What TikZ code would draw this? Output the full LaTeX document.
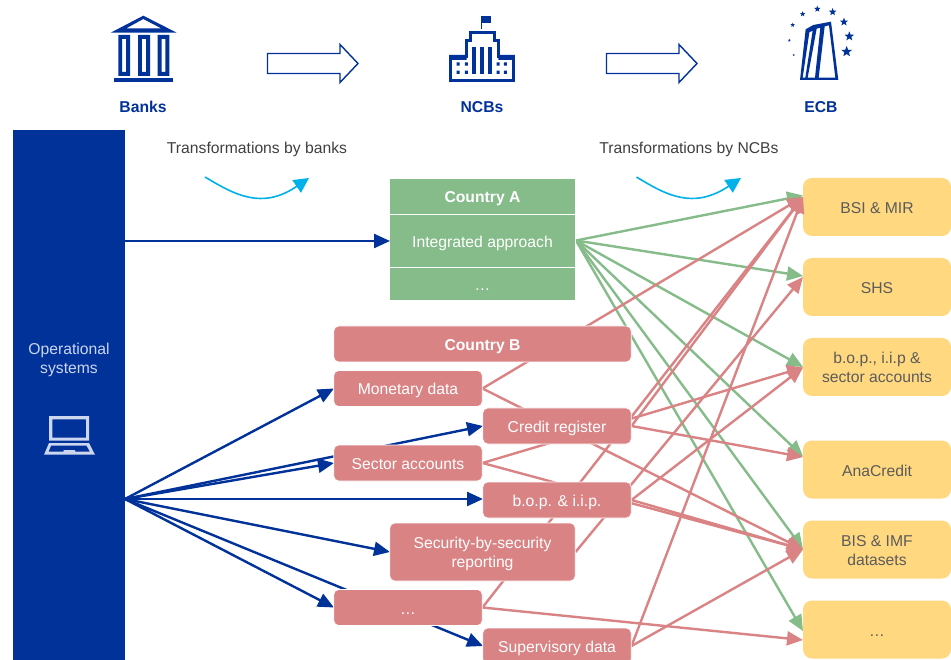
\documentclass[tikz,border=0pt]{standalone}
\usepackage{fontspec}
\setmainfont{Liberation Sans}
\usetikzlibrary{arrows.meta}
\definecolor{ecbblue}{HTML}{003299}
\definecolor{agreen}{HTML}{85BC8A}
\definecolor{bred}{HTML}{D98384}
\definecolor{yel}{HTML}{FFD87F}
\definecolor{cyanc}{HTML}{00B1EA}
\definecolor{lightic}{HTML}{CCD6EE}
\definecolor{txt}{HTML}{404040}
\definecolor{ytxt}{HTML}{5C5C5C}
\newcommand{\ecbstar}[3]{\fill[ecbblue,shift={(#1,#2)}] (270:#3) -- (306:#3*.42) -- (342:#3) -- (18:#3*.42) -- (54:#3) -- (90:#3*.42) -- (126:#3) -- (162:#3*.42) -- (198:#3) -- (234:#3*.42) -- cycle;}
\tikzset{
  lab/.style={font=\fontsize{15.7}{19}\selectfont,align=center,inner sep=0pt},
  oneline/.style={text height=15pt,text depth=2pt},
  twoline/.style={text height=35pt,text depth=3.6pt},
  cell/.style={lab,text=white,draw=white,line width=0.7pt,oneline},
  greenbox/.style={cell,fill=agreen,minimum width=185.5pt},
  redbox/.style={cell,fill=bred,rounded corners=5pt},
  rnarrow/.style={redbox,minimum width=148.5pt,minimum height=36pt},
  yelbox/.style={lab,text=ytxt,fill=yel,rounded corners=9pt,minimum width=148pt,minimum height=58pt,oneline},
  head/.style={lab,text=ecbblue,font=\fontsize{15.7}{19}\selectfont\bfseries},
  boldtxt/.style={font=\fontsize{15.7}{19}\selectfont\bfseries},
  blueline/.style={draw=ecbblue,line width=2.4pt,-{Triangle[length=16pt,width=14pt]}},
  greenline/.style={draw=agreen,line width=2.4pt,-{Triangle[length=16pt,width=14pt]}},
  redline/.style={draw=bred,line width=2.4pt,-{Triangle[length=16pt,width=14pt]}},
  curvearrow/.style={draw=cyanc,line width=1.6pt,-{Triangle[length=15pt,width=15pt]}},
  bigarrow/.style={draw=ecbblue,line width=1.4pt,fill=white,line join=miter}
}
\begin{document}
\begin{tikzpicture}[x=1pt,y=-1pt]
\clip (0,0) rectangle (951,660);
\fill[white] (0,0) rectangle (951,660);

% icons: bank
\fill[ecbblue,even odd rule] (143.3,15.7) -- (176.7,32.7) -- (110.7,32.7) -- cycle (143.3,19) -- (126,28.5) -- (161.5,28.5) -- cycle;
\foreach \xa/\xb in {118.3/130,138/150,157.7/169.3}
  \fill[ecbblue,even odd rule] (\xa,35) rectangle (\xb,76) (\xa+3.9,39) rectangle (\xb-3.9,72);
\fill[ecbblue] (114,78.3) rectangle (173.3,81.7);

% icons: NCB
\begin{scope}[shift={(420,0)},x=0.3333pt,y=-0.3333pt]
\fill[ecbblue] (183,47) rectangle (213,68);
\draw[ecbblue,line width=1pt] (184,47) -- (184,88);
\draw[ecbblue,line width=3pt] (92,170) -- (140,170) -- (140,122) -- (151,122) -- (151,99) -- (223,99) -- (223,122) -- (235,122) -- (235,170) -- (281,170) -- (281,241) -- (92,241) -- cycle;
\fill[ecbblue] (88,165) rectangle (140,180) (235,165) rectangle (285,180);
\foreach \xx in {157,181,205}
  \fill[ecbblue] (\xx,140) rectangle (\xx+10,222);
\foreach \xx in {110,135,230,252}
  \fill[ecbblue] (\xx,187) rectangle (\xx+9,197) (\xx,212) rectangle (\xx+9,222);
\end{scope}

% icons: ECB
\begin{scope}[shift={(770,0)},x=0.3333pt,y=-0.3333pt]
\fill[ecbblue,even odd rule] (107,88) -- (130,75) -- (183,65) -- (205,240) -- (90,240) -- cycle
  (118,97) -- (128,92) -- (106,233) -- (98,233) -- cycle
  (140,86) -- (151,83) -- (135,233) -- (113,233) -- cycle
  (164,79) -- (177,76) -- (196,233) -- (146,233) -- cycle;
\ecbstar{142}{27}{10}
\ecbstar{98}{42}{8.5}
\ecbstar{188}{36}{12}
\ecbstar{68}{75}{7}
\ecbstar{222}{66}{13}
\ecbstar{58}{121}{5}
\ecbstar{238}{109}{15}
\ecbstar{71}{165}{3.5}
\ecbstar{230}{155}{17}
\end{scope}

% top arrows
\draw[bigarrow] (267.5,53.5) -- (340,53.5) -- (340,44.5) -- (358,63.5) -- (340,82.5) -- (340,73.5) -- (267.5,73.5) -- cycle;
\draw[bigarrow] (606.5,53.5) -- (679,53.5) -- (679,44.5) -- (697,63.5) -- (679,82.5) -- (679,73.5) -- (606.5,73.5) -- cycle;

\node[head] (banks) at (143,107) {Banks};
\node[head] (ncbs) at (482,107) {NCBs};
\node[head] (ecb) at (821,107) {ECB};

\node[lab,text=txt] (tb) at (257,149.5) {Transformations by banks};
\node[lab,text=txt] (tn) at (689,149.5) {Transformations by NCBs};

% free ends of the curved arrows
\coordinate (c1a) at (205,177);
\coordinate (c1b) at (309,178);
\coordinate (c2a) at (636.5,177);
\coordinate (c2b) at (741,178);
\draw[curvearrow] (c1a) .. controls (235,195) and (262,210) .. (c1b);
\draw[curvearrow] (c2a) .. controls (666,195) and (693,210) .. (c2b);

% left panel
\node[fill=ecbblue,minimum width=112pt,minimum height=530pt,inner sep=0pt] (ops) at (69,395) {};
\node[lab,text=lightic] (opstxt) at (69,359.5) {Operational\\systems};

% laptop
\fill[lightic,even odd rule] (49,416) rectangle (89,440.7) (52.3,419.3) rectangle (86,437.7);
\fill[lightic,even odd rule] (49,443) -- (89,443) -- (95,454.7) -- (44,454.7) -- cycle
  (51,445.7) -- (86.5,445.7) -- (90,451.7) -- (75,451.7) -- (75,450) -- (63.5,450) -- (63.5,451.7) -- (48.5,451.7) -- cycle;

% target boxes
\node[yelbox] (bsi) at (877,207) {BSI \& MIR};
\node[yelbox] (shs) at (877,287) {SHS};
\node[yelbox,twoline] (bopt) at (877,367) {b.o.p., i.i.p \&\\sector accounts};
\node[yelbox] (ana) at (877,469.5) {AnaCredit};
\node[yelbox,twoline] (bis) at (877,549.5) {BIS \& IMF\\datasets};
\node[yelbox] (dott) at (877,629.5) {…};

% entry points on the target boxes
\coordinate (bsig) at (803,195.5);
\coordinate (bsir) at (803,197);
\coordinate (shsg) at (803,276);
\coordinate (shsr) at (803,277);
\coordinate (bopg) at (803,367);
\coordinate (bopr) at (803,367.5);
\coordinate (anag) at (803,456.5);
\coordinate (anar) at (803,457);
\coordinate (bisg) at (803,549);
\coordinate (bisr) at (803,549.5);
\coordinate (dotg) at (803,631);
\coordinate (dotr) at (803,640);
\coordinate (aout) at (576,240.5);
\coordinate (opsout) at (125,499);
\coordinate (opsa) at (125,241);
\coordinate (gridin) at (390,241);

% green connectors
\draw[greenline] (aout) -- (bsig);
\draw[greenline] (aout) -- (shsg);
\draw[greenline] (aout) -- (bopg);
\draw[greenline] (aout) -- (anag);
\draw[greenline] (aout) -- (bisg);
\draw[greenline] (aout) -- (dotg);

% Country A
\node[greenbox,minimum height=36.5pt,boldtxt] (aa) at (482.5,196.2) {Country A};
\node[greenbox,minimum height=53pt] (ab) at (482.5,241) {Integrated approach};
\node[greenbox,minimum height=33pt] (ac) at (482.5,284) {…};

% ports of the Country B boxes
\coordinate (mone) at (482.5,388.5);
\coordinate (cree) at (631.5,426);
\coordinate (sece) at (482.5,463);
\coordinate (bope) at (631.5,500);
\coordinate (sbse) at (575.5,552);
\coordinate (dote) at (482.5,607.5);
\coordinate (supe) at (631.5,646);
\coordinate (monw) at (334,388.5);
\coordinate (crew) at (483,426);
\coordinate (secw) at (334,463);
\coordinate (bopw) at (483,499);
\coordinate (sbsw) at (390,552);
\coordinate (dotw) at (334,607.5);
\coordinate (supw) at (483,646);

% blue connectors
\draw[blueline] (opsa) -- (gridin);
\draw[blueline] (opsout) -- (monw);
\draw[blueline] (opsout) -- (crew);
\draw[blueline] (opsout) -- (secw);
\draw[blueline] (opsout) -- (bopw);
\draw[blueline] (opsout) -- (sbsw);
\draw[blueline] (opsout) -- (dotw);
\draw[blueline] (opsout) -- (supw);

% red connectors
\draw[redline] (mone) -- (bsir);
\draw[redline] (mone) -- (bisr);
\draw[redline] (cree) -- (bsir);
\draw[redline] (cree) -- (anar);
\draw[redline] (sece) -- (bopr);
\draw[redline] (sece) -- (bisr);
\draw[redline] (bope) -- (bopr);
\draw[redline] (bope) -- (bisr);
\draw[redline] (sbse) -- (shsr);
\draw[redline] (dote) -- (bsir);
\draw[redline] (dote) -- (dotr);
\draw[redline] (supe) -- (bsir);
\draw[redline] (supe) -- (bisr);

% red boxes
\node[redbox,minimum width=297.5pt,minimum height=36pt,boldtxt] (cb) at (482.5,344) {Country B};
\node[rnarrow] (mon) at (408,388.5) {Monetary data};
\node[rnarrow] (cre) at (557,426) {Credit register};
\node[rnarrow] (sec) at (408,463) {Sector accounts};
\node[rnarrow] (bop) at (557,500) {b.o.p. \& i.i.p.};
\node[redbox,twoline,minimum width=185.5pt,minimum height=58pt] (sbs) at (482.5,552) {Security-by-security\\reporting};
\node[rnarrow] (dts) at (408,607.5) {…};
\node[rnarrow] (sup) at (557,646) {Supervisory data};
\end{tikzpicture}
\end{document}
